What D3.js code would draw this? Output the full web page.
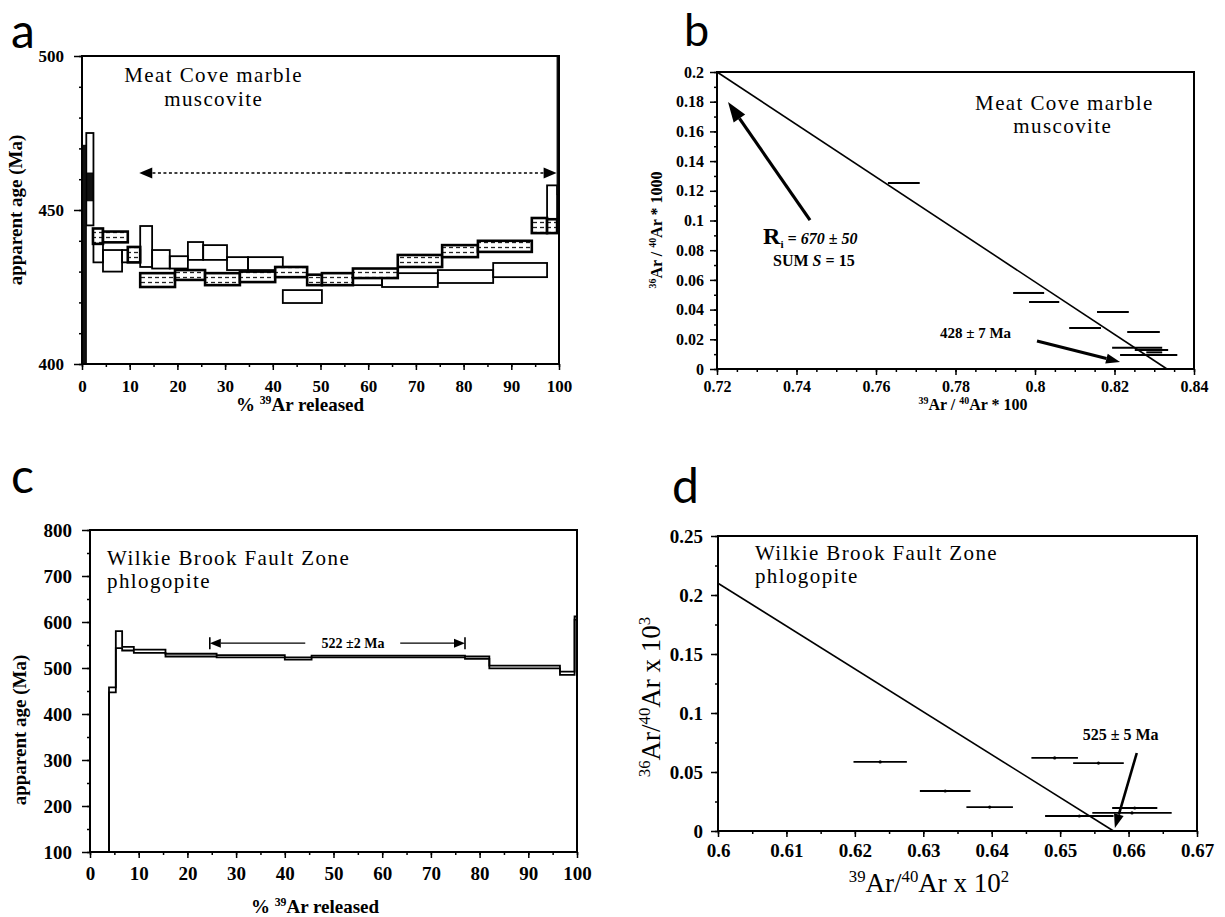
<!DOCTYPE html>
<html><head><meta charset="utf-8">
<script src="https://cdn.jsdelivr.net/npm/d3@7"></script>
<style>body{margin:0;background:#fff}svg{display:block}</style>
</head><body>
<script>
// ---------------- DATA ----------------
// Panel a: step-heating spectra, each step = [x0 %, x1 %, age low, age high]
const aHatchedSteps = [
  [2.3,4.4,439,444],[4.4,9.6,439.5,443],[9.6,12.2,433,438],[12.2,19.5,425,429.5],
  [19.5,25.8,427.3,430.5],[25.8,33.1,425.6,429.5],[33.1,40.5,426.6,430],[40.5,47.2,428.2,431.5],
  [47.2,50.3,425.6,429],[50.3,56.8,425.6,429.5],[56.8,66.2,427.9,431],[66.2,75.5,431.5,435.4],
  [75.5,83,434.7,438.6],[83,94.3,436.4,440],[94.3,97.5,442.5,447.4],[97.5,99.6,442.5,447]
];
const aOpenSteps = [
  [0.9,2.4,445,475],[2.4,4.4,433,441],[4.4,8.4,430,437],[8.4,12.2,433,437],
  [12.2,14.7,431.5,444.8],[14.7,18.4,431,437],[18.4,22.2,431,435],[22.2,25.4,433.8,439.6],
  [25.4,30.4,433.8,438.6],[30.4,34.8,430.5,434.7],[34.8,42.1,430.5,434.7],[42.1,50.3,419.8,424],
  [50.3,56.8,426,429],[56.8,62.9,425.6,429.5],[62.9,74.6,425,429.5],[74.6,86.2,426.3,430.5],
  [86.2,97.5,428.2,432.8],[97.5,99.6,442.5,458]
];
const aSolidSteps = [[0,0.9,390,471],[1.0,2.3,453,462],[99.6,100,455,500]];
const aPlateau = [12, 99.5, 462];           // dashed arrow: from %, to %, at age
const aXTicks = [0,10,20,30,40,50,60,70,80,90,100];
const aYTicks = [400,450,500];

// Panel b: isochron points
const bX   = [0.7670,0.7984,0.8023,0.8196,0.8126,0.8273,0.8257,0.8293,0.8286,0.8300];
const bY   = [0.1253,0.0512,0.0451,0.0384,0.0276,0.0249,0.0143,0.0128,0.0094,0.0112];
const bErr = [0.0040,0.0039,0.0038,0.0040,0.0040,0.0041,0.0063,0.0042,0.0072,0.0020];
const bLineX = [0.72,0.8332], bLineY = [0.2,0];
const bXTicks = [0.72,0.74,0.76,0.78,0.8,0.82,0.84];
const bYTicks = [0,0.02,0.04,0.06,0.08,0.1,0.12,0.14,0.16,0.18,0.2];

// Panel c: spectrum steps [x0, x1, low, high]
const cSteps = [
  [0,3.9,100,100],[3.9,5.3,447,458],[5.3,6.6,543,580],[6.6,9.0,538,546],[9.0,15.5,533,540],
  [15.5,26,525,531],[26,40,523,528],[40,45.5,518,523],[45.5,77,523,527],[77,82,520,525],
  [82,96.5,499,505],[96.5,99.5,485,492],[99.5,100,605,612]
];
const cPlateau = [24.6, 77, 554];
const cXTicks = [0,10,20,30,40,50,60,70,80,90,100];
const cYTicks = [100,200,300,400,500,600,700,800];

// Panel d: isochron points
const dX   = [0.6237,0.6332,0.6397,0.6492,0.6556,0.6528,0.6605,0.6609];
const dY   = [0.0585,0.0339,0.0203,0.0619,0.0576,0.0127,0.0153,0.0195];
const dErr = [0.0039,0.0037,0.0034,0.0034,0.0037,0.0050,0.0058,0.0033];
const dLineX = [0.6,0.6578], dLineY = [0.21,0];
const dXTicks = [0.6,0.61,0.62,0.63,0.64,0.65,0.66,0.67];
const dYTicks = [0,0.05,0.1,0.15,0.2,0.25];

// ---------------- DRAW ----------------
const SERIF = "'Liberation Serif','Times New Roman',serif";
const svg = d3.select("body").append("svg").attr("width",1225).attr("height",917)
  .style("background","#fff");
const defs = svg.append("defs");
const pat = defs.append("pattern").attr("id","hatch").attr("patternUnits","userSpaceOnUse")
  .attr("width",7).attr("height",5);
pat.append("rect").attr("width",7).attr("height",5).attr("fill","#fff");
pat.append("line").attr("x1",1).attr("x2",5).attr("y1",2.5).attr("y2",2.5)
  .attr("stroke","#222").attr("stroke-width",1.3);

function range(a,b,s){const r=[];for(let v=a;v<=b+1e-9;v+=s)r.push(+v.toFixed(4));return r;}

function styleAxis(sel, fs){
  sel.attr("font-family",SERIF).attr("font-size",fs).attr("font-weight","bold");
  sel.selectAll("text").attr("fill","#000").style("font-family",SERIF).style("font-weight","bold")
    .style("font-size",fs+"px");
  sel.selectAll("line").attr("stroke","#000").attr("stroke-width",1.5);
  sel.selectAll(".domain").remove();
}

function frameAxes(g, x, y, o){
  const [x0,x1]=x.range(), [y0,y1]=y.range();
  g.append("g").attr("transform",`translate(0,${y0})`)
    .call(d3.axisBottom(x).tickValues(o.xMinor).tickSize(3).tickFormat(""))
    .call(s=>styleAxis(s,o.fs));
  g.append("g").attr("transform",`translate(0,${y0})`)
    .call(d3.axisBottom(x).tickValues(o.xMajor).tickSize(6).tickPadding(o.xPad).tickFormat(o.xFmt))
    .call(s=>styleAxis(s,o.fs));
  g.append("g").attr("transform",`translate(${x0},0)`)
    .call(d3.axisLeft(y).tickValues(o.yMinor).tickSize(3).tickFormat(""))
    .call(s=>styleAxis(s,o.fs));
  g.append("g").attr("transform",`translate(${x0},0)`)
    .call(d3.axisLeft(y).tickValues(o.yMajor).tickSize(o.yTick||7).tickPadding(o.yPad).tickFormat(o.yFmt))
    .call(s=>styleAxis(s,o.fs));
  g.append("rect").attr("x",x0).attr("y",y1).attr("width",x1-x0).attr("height",y0-y1)
    .attr("fill","none").attr("stroke","#000").attr("stroke-width",2);
}

function richText(g, x, y, parts, fs, opt={}){
  const t = g.append("text").attr("x",x).attr("y",y).style("font-family",SERIF)
    .style("font-size",fs+"px").style("font-weight",opt.bold?"bold":"normal")
    .attr("text-anchor",opt.anchor||"start").attr("fill","#000");
  if(opt.rotate) t.attr("transform",`rotate(-90,${x},${y})`);
  let up=false;
  parts.forEach(p=>{
    const s = t.append("tspan").text(p.t);
    if(p.sup){ s.style("font-size",(fs*0.62)+"px"); if(!up){s.attr("dy",-fs*0.38);up=true;} }
    else if(p.sub){ s.style("font-size",(fs*0.7)+"px"); s.attr("dy",fs*0.25); up=false; }
    else { if(up){s.attr("dy",fs*0.38);up=false;} }
    if(p.size) s.style("font-size",p.size+"px");
    if(p.italic) s.style("font-style","italic");
    if(p.dy!==undefined) s.attr("dy",p.dy);
  });
  return t;
}

function title(g, x, y, str, anchor){
  g.append("text").attr("x",x).attr("y",y).attr("text-anchor",anchor||"start")
    .style("font-family",SERIF).style("font-size","21px").style("letter-spacing","1.4px")
    .attr("fill","#000").text(str);
}

function arrow(g,x1,y1,x2,y2,o){
  const L=Math.hypot(x2-x1,y2-y1), ux=(x2-x1)/L, uy=(y2-y1)/L;
  const bx=x2-ux*o.hl, by=y2-uy*o.hl;
  g.append("line").attr("x1",x1).attr("y1",y1).attr("x2",bx).attr("y2",by)
    .attr("stroke","#000").attr("stroke-width",o.w).attr("stroke-dasharray",o.dash||null);
  g.append("path").attr("d",`M${x2},${y2}L${bx-uy*o.hw/2},${by+ux*o.hw/2}L${bx+uy*o.hw/2},${by-ux*o.hw/2}Z`)
    .attr("fill","#000");
}

function panelLetter(x,y,t,fs){
  svg.append("text").attr("x",x).attr("y",y).text(t).style("font-family","Lato,'DejaVu Sans',sans-serif")
    .style("font-size",(fs||48)+"px").attr("fill","#000");
}

// ===== Panel a =====
{
  const x = d3.scaleLinear().domain([0,100]).range([82,559]);
  const y = d3.scaleLinear().domain([400,500]).range([364,56]);
  const g = svg.append("g");
  defs.append("clipPath").attr("id","clipA").append("rect")
    .attr("x",82).attr("y",56).attr("width",477).attr("height",308);
  const m = g.append("g").attr("clip-path","url(#clipA)");
  m.selectAll("rect.o").data(aOpenSteps).join("rect").attr("class","o")
    .attr("x",d=>x(d[0])).attr("width",d=>x(d[1])-x(d[0]))
    .attr("y",d=>y(d[3])).attr("height",d=>y(d[2])-y(d[3]))
    .attr("fill","none").attr("stroke","#000").attr("stroke-width",1.8);
  m.selectAll("rect.h").data(aHatchedSteps).join("rect").attr("class","h")
    .attr("x",d=>x(d[0])).attr("width",d=>x(d[1])-x(d[0]))
    .attr("y",d=>y(d[3])).attr("height",d=>y(d[2])-y(d[3]))
    .attr("fill","url(#hatch)").attr("stroke","#000").attr("stroke-width",2.6);
  m.selectAll("rect.s").data(aSolidSteps).join("rect").attr("class","s")
    .attr("x",d=>x(d[0])).attr("width",d=>x(d[1])-x(d[0]))
    .attr("y",d=>y(d[3])).attr("height",d=>y(d[2])-y(d[3]))
    .attr("fill","#111").attr("stroke","#000").attr("stroke-width",1);
  frameAxes(g,x,y,{xMajor:aXTicks,xMinor:range(0,100,5),yMajor:aYTicks,yMinor:range(400,500,10),
    xFmt:d3.format("d"),yFmt:d3.format("d"),fs:17,xPad:10,yPad:10,yTick:8});
  const ya=y(aPlateau[2]), xl=x(aPlateau[0]), xr=x(aPlateau[1]), xm=(xl+xr)/2;
  arrow(g,xm,ya,xl,ya,{w:1.6,hl:13,hw:11,dash:"3,2.5"});
  arrow(g,xm,ya,xr,ya,{w:1.6,hl:13,hw:11,dash:"3,2.5"});
  title(g,x(27.6),y(491.4),"Meat Cove marble","middle");
  title(g,x(27.6),y(483.8),"muscovite","middle");
  richText(g,300,411,[{t:"% "},{t:"39",sup:true},{t:"Ar released"}],19,{bold:true,anchor:"middle"});
  richText(g,22,210,[{t:"apparent age (Ma)"}],19,{bold:true,anchor:"middle",rotate:true});
  panelLetter(11,48,"a");
}

// ===== Panel b =====
{
  const x = d3.scaleLinear().domain([0.72,0.84]).range([717,1194]);
  const y = d3.scaleLinear().domain([0,0.2]).range([369,72]);
  const g = svg.append("g");
  const fmt = v=>String(+v.toFixed(2));
  frameAxes(g,x,y,{xMajor:bXTicks,xMinor:range(0.72,0.84,0.005),yMajor:bYTicks,yMinor:range(0,0.2,0.01),
    xFmt:fmt,yFmt:fmt,fs:16,xPad:6,yPad:6,yTick:7});
  g.append("line").attr("x1",x(bLineX[0])).attr("y1",y(bLineY[0])).attr("x2",x(bLineX[1])).attr("y2",y(bLineY[1]))
    .attr("stroke","#000").attr("stroke-width",1.6);
  bX.forEach((v,i)=>{
    g.append("line").attr("x1",x(v-bErr[i])).attr("x2",x(v+bErr[i])).attr("y1",y(bY[i])).attr("y2",y(bY[i]))
      .attr("stroke","#000").attr("stroke-width",2);
  });
  title(g,x(0.8074),y(0.1744),"Meat Cove marble","middle");
  title(g,x(0.807),y(0.1590),"muscovite","middle");
  arrow(g,x(0.7434),y(0.1003),x(0.72277),y(0.1798),{w:3.2,hl:20,hw:14});
  richText(g,x(0.7316),y(0.0842),[{t:"R",size:24},{t:"i",sub:true},{t:" = 670 ± 50",italic:true,size:16,dy:-4}],16,{bold:true});
  richText(g,x(0.7341),y(0.0694),[{t:"SUM "},{t:"S",italic:true},{t:" = 15"}],16,{bold:true});
  richText(g,x(0.7761),y(0.0209),[{t:"428 ± 7 Ma"}],15,{bold:true});
  arrow(g,x(0.8005),y(0.0189),x(0.8214),y(0.0047),{w:3,hl:14,hw:10});
  richText(g,973,410,[{t:"39",sup:true},{t:"Ar / "},{t:"40",sup:true},{t:"Ar * 100"}],16,{bold:true,anchor:"middle"});
  richText(g,662,230,[{t:"36",sup:true},{t:"Ar / "},{t:"40",sup:true},{t:"Ar * 1000"}],16,{bold:true,anchor:"middle",rotate:true});
  panelLetter(684,46,"b",45);
}

// ===== Panel c =====
{
  const x = d3.scaleLinear().domain([0,100]).range([90,577]);
  const y = d3.scaleLinear().domain([100,800]).range([852,530]);
  const g = svg.append("g");
  frameAxes(g,x,y,{xMajor:cXTicks,xMinor:range(0,100,5),yMajor:cYTicks,yMinor:range(100,800,50),
    xFmt:d3.format("d"),yFmt:d3.format("d"),fs:19,xPad:9,yPad:10,yTick:8});
  const last = cSteps[cSteps.length-1];
  const hiPts = cSteps.map(d=>[d[0],d[3]]).concat([[last[1],last[3]]]);
  const loPts = cSteps.map(d=>[d[0],d[2]]).concat([[last[1],last[2]]]);
  const line = d3.line().x(d=>x(d[0])).y(d=>y(d[1])).curve(d3.curveStepAfter);
  g.append("path").attr("d",line(hiPts)).attr("fill","none").attr("stroke","#000").attr("stroke-width",1.8);
  g.append("path").attr("d",line(loPts)).attr("fill","none").attr("stroke","#000").attr("stroke-width",1.8);
  const ya=y(cPlateau[2]), xl=x(cPlateau[0]), xr=x(cPlateau[1]);
  arrow(g,x(44.2),ya,xl,ya,{w:1.4,hl:11,hw:9});
  arrow(g,x(63.7),ya,xr,ya,{w:1.4,hl:11,hw:9});
  [xl,xr].forEach(v=>g.append("line").attr("x1",v).attr("x2",v).attr("y1",ya-6).attr("y2",ya+6)
    .attr("stroke","#000").attr("stroke-width",1.6));
  richText(g,x(54),ya+5,[{t:"522 ±2 Ma"}],14,{bold:true,anchor:"middle"});
  title(g,x(3.5),y(724),"Wilkie Brook Fault Zone");
  title(g,x(3.5),y(673),"phlogopite");
  richText(g,315,913,[{t:"% "},{t:"39",sup:true},{t:"Ar released"}],19,{bold:true,anchor:"middle"});
  richText(g,26,730,[{t:"apparent age (Ma)"}],19,{bold:true,anchor:"middle",rotate:true});
  panelLetter(11,493,"c");
}

// ===== Panel d =====
{
  const x = d3.scaleLinear().domain([0.6,0.67]).range([718,1197]);
  const y = d3.scaleLinear().domain([0,0.25]).range([831,536]);
  const g = svg.append("g");
  const fmt = v=>String(+v.toFixed(3));
  frameAxes(g,x,y,{xMajor:dXTicks,xMinor:range(0.6,0.67,0.005),yMajor:dYTicks,yMinor:range(0,0.25,0.025),
    xFmt:fmt,yFmt:fmt,fs:19,xPad:7,yPad:8,yTick:7});
  g.append("line").attr("x1",x(dLineX[0])).attr("y1",y(dLineY[0])).attr("x2",x(dLineX[1])).attr("y2",y(dLineY[1]))
    .attr("stroke","#000").attr("stroke-width",1.6);
  dX.forEach((v,i)=>{
    g.append("line").attr("x1",x(v-dErr[i])).attr("x2",x(v+dErr[i])).attr("y1",y(dY[i])).attr("y2",y(dY[i]))
      .attr("stroke","#000").attr("stroke-width",1.8);
    g.append("circle").attr("cx",x(v)).attr("cy",y(dY[i])).attr("r",1.6).attr("fill","#000");
  });
  title(g,x(0.6054),y(0.2297),"Wilkie Brook Fault Zone");
  title(g,x(0.6054),y(0.2098),"phlogopite");
  richText(g,x(0.6533),y(0.0771),[{t:"525 ± 5 Ma"}],16,{bold:true});
  arrow(g,x(0.6612),y(0.0661),x(0.658),y(0.0025),{w:2.6,hl:14,hw:10});
  richText(g,929,892,[{t:"39",sup:true},{t:"Ar/"},{t:"40",sup:true},{t:"Ar x 10"},{t:"2",sup:true}],27,{anchor:"middle"});
  richText(g,660,697,[{t:"36",sup:true},{t:"Ar/"},{t:"40",sup:true},{t:"Ar x 10"},{t:"3",sup:true}],27,{anchor:"middle",rotate:true});
  panelLetter(672,503,"d");
}
</script>
</body></html>
